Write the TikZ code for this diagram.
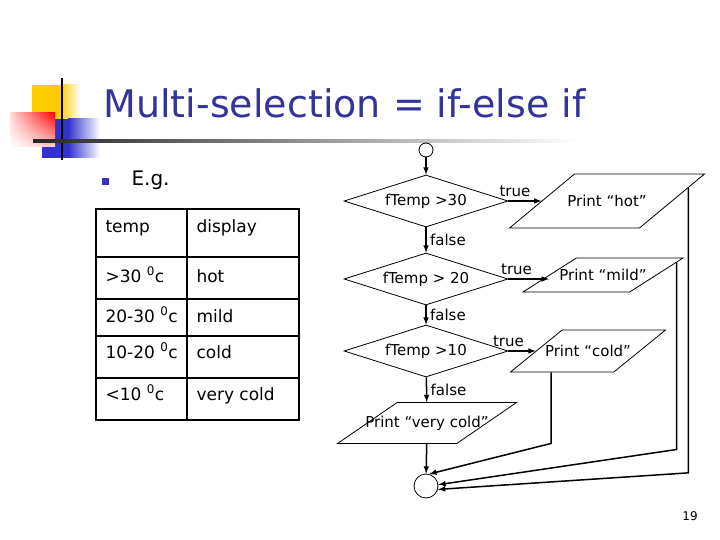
\documentclass[tikz,border=0pt]{standalone}
\usepackage{fontspec}
\setmainfont{DejaVu Sans}
\usepackage{xcolor}
\usetikzlibrary{shapes.geometric,calc,shadings}

\definecolor{titleblue}{RGB}{51,51,153}
\definecolor{bulletblue}{RGB}{51,51,204}
\definecolor{decoyellow}{RGB}{255,204,0}
\definecolor{decoblue}{RGB}{51,51,204}

\newcommand{\degc}{\textsuperscript{0}c}

\begin{document}
\begin{tikzpicture}[x=1pt, y=-1pt, >=latex,
  every node/.style={font=\fontsize{15}{18}\selectfont},
  decision/.style={diamond, draw, line width=0.8pt, shape aspect=3,
    minimum width=164pt, minimum height=52pt, inner sep=1pt},
  io/.style={trapezium, trapezium left angle=45, trapezium right angle=135,
    trapezium stretches=true, draw, line width=0.8pt, inner sep=1pt},
  conn/.style={line width=1.5pt},
  tbl/.style={line width=1.4pt},
  cell/.style={anchor=base west, font=\fontsize{17}{20}\selectfont}]
  \useasboundingbox (0,0) rectangle (720,540);

  % slide decoration
  \fill[decoyellow] (32,85) rectangle (60,120);
  \shade[left color=decoyellow, right color=white] (60,85) rectangle (80,120);
  \fill[decoblue] (42,119) rectangle (68,158);
  \shade[left color=decoblue, right color=white] (68,119) rectangle (100,158);
  \shade[upper left=red!15, upper right=red, lower left=white, lower right=red!20]
    (10,113) rectangle (55,147);
  \draw[line width=2pt] (62,78) -- (62,160);
  \shade[left color=black!85, right color=white] (33,140) rectangle (580,142.5);

  \node[anchor=base west, text=titleblue, font=\fontsize{38}{40}\selectfont]
    (title) at (100,118) {Multi-selection = if-else if};
  \node[fill=bulletblue, minimum size=7pt, inner sep=0pt] (bullet) at (105.5,182) {};
  \node[anchor=base west, font=\fontsize{20}{24}\selectfont] (eg) at (128,186) {E.g.};

  % table
  \draw[tbl] (96,209) rectangle (299,420);
  \draw[tbl] (187,209) -- (187,420);
  \foreach \y in {257,299,336,378}
    \draw[tbl] (96,\y) -- (299,\y);
  \foreach \y/\t/\d [count=\i] in {233/temp/display, 282/{>30 \degc}/hot,
      322/{20-30 \degc}/mild, 358/{10-20 \degc}/cold, 400/{<10 \degc}/very cold}{
    \node[cell] (t\i) at (102,\y) {\t};
    \node[cell] (v\i) at (193,\y) {\d};
  }

  % flowchart
  \node[circle, draw, line width=0.8pt, minimum size=14pt, inner sep=0pt] (startc) at (426,150) {};
  \node[decision] (d1) at (426,201) {fTemp >30};
  \node[decision] (d2) at (426,279) {fTemp > 20};
  \node[decision] (d3) at (426,351) {fTemp >10};
  \node[io, minimum width=195pt, minimum height=54pt, label=center:{Print “hot”}] (hot) at (607,201) {};
  \node[io, minimum width=160pt, minimum height=34pt, label=center:{Print “mild”}] (mild) at (603,275) {};
  \node[io, minimum width=155pt, minimum height=42pt, label=center:{Print “cold”}] (cold) at (588,351) {};
  \node[io, minimum width=179pt, minimum height=41pt, label=center:{Print “very cold”}] (vcold) at (427,423) {};
  \node[circle, draw, line width=0.8pt, minimum size=24pt, inner sep=0pt] (endc) at (426,486) {};

  \draw[conn,->] (startc) -- (d1);
  \draw[conn,->] (d1) -- node[right] {false} (d2);
  \draw[conn,->] (d2) -- node[right] {false} (d3);
  \draw[conn,->] (d3) -- node[right] {false} (vcold);
  \draw[conn,->] (vcold) -- (endc);

  \draw[conn,->] (d1.east) -- node[above, pos=0.2] {true} (hot.west |- d1.east);
  \draw[conn,->] (d2.east) -- node[above, pos=0.2] {true} (mild.west |- d2.east);
  \draw[conn,->] (d3.east) -- node[above, pos=0.0] {true} (cold.west |- d3.east);

  \coordinate (hotout) at ($(hot.top right corner)!0.26!(hot.bottom right corner)$);
  \coordinate (mildout) at ($(mild.top right corner)!0.14!(mild.bottom right corner)$);
  \coordinate (coldout) at ($(cold.bottom left corner)!0.4!(cold.bottom right corner)$);
  \draw[conn,->] (hotout) -- ++(0,285) -- (endc.-16);
  \draw[conn,->] (mildout) -- ++(0,187) -- (endc.6);
  \draw[conn,->] (coldout) -- ++(0,71) -- (endc.75);

  \node[font=\fontsize{12}{14}\selectfont] (pagenum) at (690,516) {19};
\end{tikzpicture}
\end{document}
